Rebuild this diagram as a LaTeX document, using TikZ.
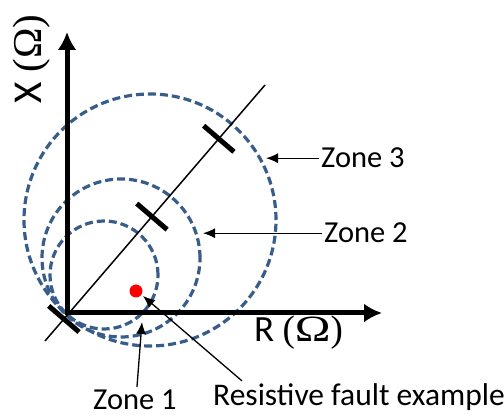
\documentclass[tikz,border=0pt]{standalone}
\usepackage{graphicx}
\usepackage{fontspec}
\setmainfont{Carlito}
\newfontfamily\serifomega{Liberation Serif}
\usetikzlibrary{arrows.meta,calc}
\definecolor{zoneblue}{RGB}{56,93,138}
\definecolor{faultred}{RGB}{255,0,0}
\tikzset{
  axisline/.style={line width=5pt, line join=miter, {Latex[length=18pt,width=19pt]}-{Latex[length=18pt,width=19pt]}},
  diagline/.style={line width=1.5pt},
  tickmark/.style={line width=5pt},
  zonecircle/.style={zoneblue, line width=3.2pt, dash pattern=on 8pt off 4pt},
  pointer/.style={line width=1.3pt, -{Latex[length=12pt,width=10pt]}},
  lbl/.style={font=\fontsize{30.5}{36}\selectfont, inner sep=2pt},
  faultdot/.style={circle, fill=faultred, minimum size=13pt, inner sep=0pt}
}
\begin{document}
\begin{tikzpicture}[x=1pt,y=1pt]
\useasboundingbox (0,0) rectangle (504,418);
% circles
\draw[zonecircle] (150,198) circle[radius=126];
\draw[zonecircle] (121,160) circle[radius=79];
\draw[zonecircle] (104,143) circle[radius=54];
% diagonal impedance line
\coordinate (dA) at (45,77);
\coordinate (dB) at (265,333);
\draw[diagline] (dA) -- (dB);
% axes
\coordinate (O) at (67,105);
\coordinate (ytip) at (67,386);
\coordinate (xtip) at (382,105);
\draw[axisline] (ytip) -- (O) -- (xtip);
% ticks
\foreach \t in {0.086,0.486,0.79}{
  \coordinate (p) at ($(dA)!\t!(dB)$);
  \draw[tickmark] ($(p)!20pt!90:(dB)$) -- ($(p)!20pt!-90:(dB)$);
}
% fault point
\node[faultdot] (fault) at (136,127) {};
% labels
\node[rotate=90, anchor=base, inner sep=0pt, font=\fontsize{41}{48}\selectfont] (xl) at (42,359) {X {\serifomega(Ω)}};
\node[anchor=base west, inner sep=0pt, font=\fontsize{37}{44}\selectfont] (rl) at (254,76) {R {\serifomega(\scalebox{1.3}[1]{Ω})}};
\node[lbl, anchor=base west] (z3) at (319,250) {Zone 3};
\node[lbl, anchor=base west] (z2) at (322,175) {Zone 2};
\node[lbl, anchor=base west, inner sep=0pt] (z1) at (93,8) {Zone 1};
\node[lbl, anchor=base west, font=\fontsize{31.5}{36}\selectfont] (res) at (211,12) {Resistive fault example};
% arrow tips
\coordinate (z3tip) at (266,261);
\coordinate (z2tip) at (203,186);
\coordinate (z1tip) at (142,96);
\coordinate (restip) at (143,122);
\draw[pointer] (z3.west) -- (z3.west -| z3tip);
\draw[pointer] (z2.west) -- (z2.west -| z2tip);
\draw[pointer] ($(z1.north)+(2,3)$) -- (z1tip);
\draw[pointer] ($(res.north west)+(31,1)$) -- (restip);
\end{tikzpicture}
\end{document}
